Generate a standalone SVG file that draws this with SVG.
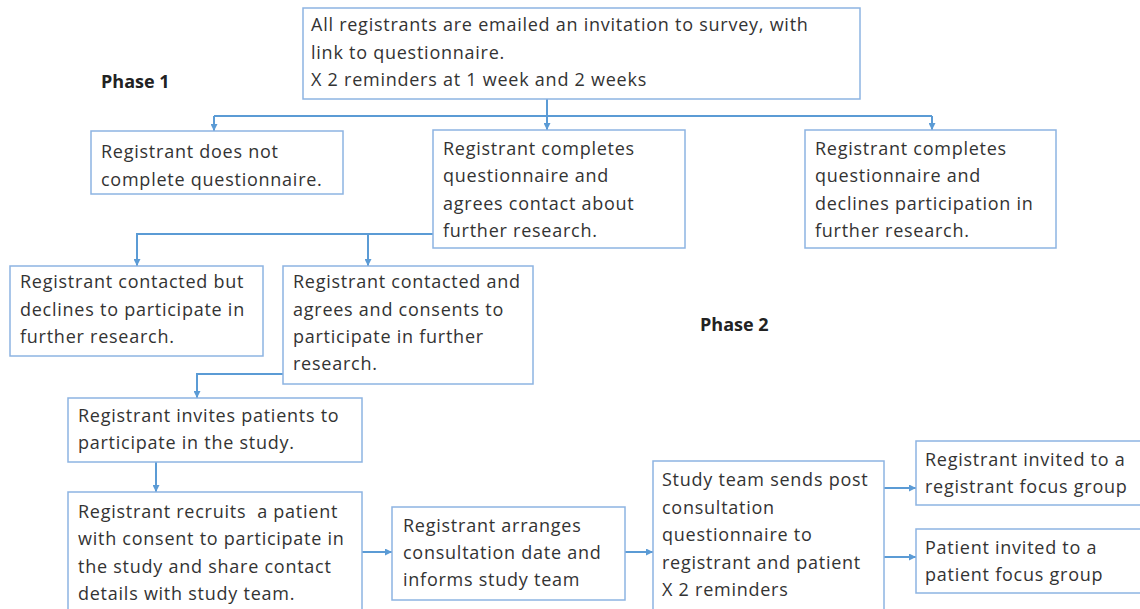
<svg xmlns="http://www.w3.org/2000/svg" width="1140" height="609" viewBox="0 0 1140 609">
<style>
.box{fill:#fff;stroke:#8db4e2;stroke-width:1.5}
.t{font-family:"Open Sans","Liberation Sans",sans-serif;font-size:18px;letter-spacing:0.75px;fill:#333;white-space:pre}
.b{font-family:"Open Sans","Liberation Sans",sans-serif;font-size:18px;font-weight:bold;fill:#222}
.c{fill:none;stroke:#5b9bd5;stroke-width:2}
</style>
<defs>
<marker id="ah" viewBox="0 0 10 10" refX="10" refY="5" markerWidth="3.5" markerHeight="3.5" orient="auto" markerUnits="strokeWidth">
<path d="M0,0 L10,5 L0,10 z" fill="#5b9bd5"/>
</marker>
</defs>
<rect width="1140" height="609" fill="#fff"/>
<text class="b" x="101" y="88">Phase 1</text>
<text class="b" x="700" y="331">Phase 2</text>
<g id="connectors">
<path class="c" d="M547,99 V116"/>
<path class="c" d="M214,116 H932"/>
<path class="c" d="M214,116 V131" marker-end="url(#ah)"/>
<path class="c" d="M547,116 V130" marker-end="url(#ah)"/>
<path class="c" d="M932,116 V130" marker-end="url(#ah)"/>
<path class="c" d="M433,234 H137 V266" marker-end="url(#ah)"/>
<path class="c" d="M368,234 V266" marker-end="url(#ah)"/>
<path class="c" d="M283,374 H197 V398" marker-end="url(#ah)"/>
<path class="c" d="M156,462 V492" marker-end="url(#ah)"/>
<path class="c" d="M362,552 H392" marker-end="url(#ah)"/>
<path class="c" d="M625,552 H653" marker-end="url(#ah)"/>
<path class="c" d="M884,488 H916" marker-end="url(#ah)"/>
<path class="c" d="M884,557 H916" marker-end="url(#ah)"/>
</g>
<g id="n-top">
<rect class="box" x="303" y="8" width="557" height="91"/>
<text class="t" x="311" y="31">All registrants are emailed an invitation to survey, with</text>
<text class="t" x="311" y="59">link to questionnaire.</text>
<text class="t" x="311" y="86">X 2 reminders at 1 week and 2 weeks</text>
</g>
<g id="n-notcomplete">
<rect class="box" x="91" y="131" width="252" height="63"/>
<text class="t" x="101" y="158">Registrant does not</text>
<text class="t" x="101" y="186">complete questionnaire.</text>
</g>
<g id="n-agrees">
<rect class="box" x="433" y="130" width="252" height="118"/>
<text class="t" x="443" y="155">Registrant completes</text>
<text class="t" x="443" y="182">questionnaire and</text>
<text class="t" x="443" y="210">agrees contact about</text>
<text class="t" x="443" y="237">further research.</text>
</g>
<g id="n-declines">
<rect class="box" x="805" y="130" width="251" height="118"/>
<text class="t" x="815" y="155">Registrant completes</text>
<text class="t" x="815" y="182">questionnaire and</text>
<text class="t" x="815" y="210">declines participation in</text>
<text class="t" x="815" y="237">further research.</text>
</g>
<g id="n-contacted-declines">
<rect class="box" x="10" y="266" width="253" height="90"/>
<text class="t" x="20" y="288">Registrant contacted but</text>
<text class="t" x="20" y="316">declines to participate in</text>
<text class="t" x="20" y="343">further research.</text>
</g>
<g id="n-contacted-agrees">
<rect class="box" x="283" y="266" width="250" height="118"/>
<text class="t" x="293" y="288">Registrant contacted and</text>
<text class="t" x="293" y="316">agrees and consents to</text>
<text class="t" x="293" y="343">participate in further</text>
<text class="t" x="293" y="370">research.</text>
</g>
<g id="n-invites">
<rect class="box" x="68" y="398" width="294" height="64"/>
<text class="t" x="78" y="422">Registrant invites patients to</text>
<text class="t" x="78" y="449">participate in the study.</text>
</g>
<g id="n-recruits">
<rect class="box" x="68" y="492" width="294" height="125"/>
<text class="t" x="78" y="518">Registrant recruits  a patient</text>
<text class="t" x="78" y="545">with consent to participate in</text>
<text class="t" x="78" y="573">the study and share contact</text>
<text class="t" x="78" y="600">details with study team.</text>
</g>
<g id="n-arranges">
<rect class="box" x="392" y="507" width="233" height="93"/>
<text class="t" x="403" y="532">Registrant arranges</text>
<text class="t" x="403" y="559">consultation date and</text>
<text class="t" x="403" y="586">informs study team</text>
</g>
<g id="n-sends">
<rect class="box" x="653" y="461" width="231" height="155"/>
<text class="t" x="662" y="486">Study team sends post</text>
<text class="t" x="662" y="514">consultation</text>
<text class="t" x="662" y="541">questionnaire to</text>
<text class="t" x="662" y="569">registrant and patient</text>
<text class="t" x="662" y="596">X 2 reminders</text>
</g>
<g id="n-reg-focus">
<rect class="box" x="916" y="441" width="230" height="64"/>
<text class="t" x="925" y="466">Registrant invited to a</text>
<text class="t" x="925" y="493">registrant focus group</text>
</g>
<g id="n-pat-focus">
<rect class="box" x="916" y="529" width="230" height="64"/>
<text class="t" x="925" y="554">Patient invited to a</text>
<text class="t" x="925" y="581">patient focus group</text>
</g>
</svg>
